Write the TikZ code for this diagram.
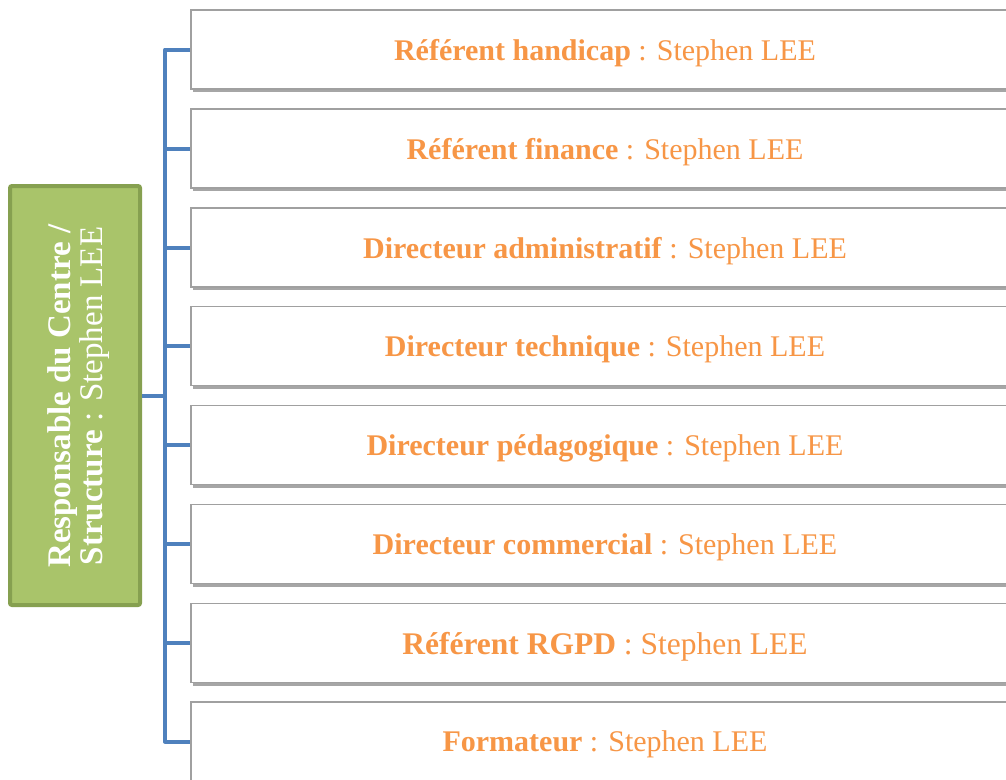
\documentclass[tikz,border=0pt]{standalone}
\usepackage{fontspec}
\setmainfont{Liberation Serif}
\usetikzlibrary{shadows}
\definecolor{orangetxt}{HTML}{F79646}
\definecolor{bluelink}{HTML}{4F81BD}
\definecolor{greenfill}{HTML}{A9C46A}
\definecolor{greenedge}{HTML}{86A050}
\definecolor{boxedge}{HTML}{A0A0A0}
\tikzset{
  rowbox/.style={draw=boxedge, line width=1.6pt, fill=white, minimum width=828pt, minimum height=79pt,
    inner sep=0pt, text=orangetxt, font=\fontsize{30}{33}\selectfont, text depth=0pt,
    drop shadow={shadow xshift=2pt, shadow yshift=-3pt, opacity=0.35, fill=black}},
  headbox/.style={draw=greenedge, line width=4pt, fill=greenfill, rounded corners=2pt,
    minimum width=130pt, minimum height=419pt, inner sep=0pt},
  headtext/.style={text=white, font=\fontsize{33}{32}\selectfont, align=center, rotate=90},
  conn/.style={draw=bluelink, line width=4pt, line join=round}
}
\begin{document}
\begin{tikzpicture}[x=1pt,y=-1pt]
\useasboundingbox (0,0) rectangle (1006,779);
\clip (0,0) rectangle (1006,779);
\node[headbox] (g) at (75,395.5) {};
\node[headtext] (gt) at (79,396) {\textbf{Responsable du Centre /}\\\textbf{Structure} : Stephen LEE};
\node[rowbox] (b1) at (605,49.5) {\textbf{Référent handicap} : Stephen LEE};
\node[rowbox] (b2) at (605,148.5) {\textbf{Référent finance} : Stephen LEE};
\node[rowbox] (b3) at (605,247.5) {\textbf{Directeur administratif} : Stephen LEE};
\node[rowbox] (b4) at (605,346) {\textbf{Directeur technique} : Stephen LEE};
\node[rowbox] (b5) at (605,445) {\textbf{Directeur pédagogique} : Stephen LEE};
\node[rowbox] (b6) at (605,544) {\textbf{Directeur commercial} : Stephen LEE};
\node[rowbox, font=\fontsize{31.5}{33}\selectfont] (b7) at (605,643) {\textbf{Référent RGPD} : Stephen LEE};
\node[rowbox] (b8) at (605,741.5) {\textbf{Formateur} : Stephen LEE};
\coordinate (sp) at (165,0);
\draw[conn] (b1.west) -- (b1.west -| sp) -- (b8.west -| sp) -- (b8.west);
\foreach \i in {2,...,7}{\draw[conn] (b\i.west) -- (b\i.west -| sp);}
\draw[conn] (g.east) -- (g.east -| sp);
\end{tikzpicture}
\end{document}
